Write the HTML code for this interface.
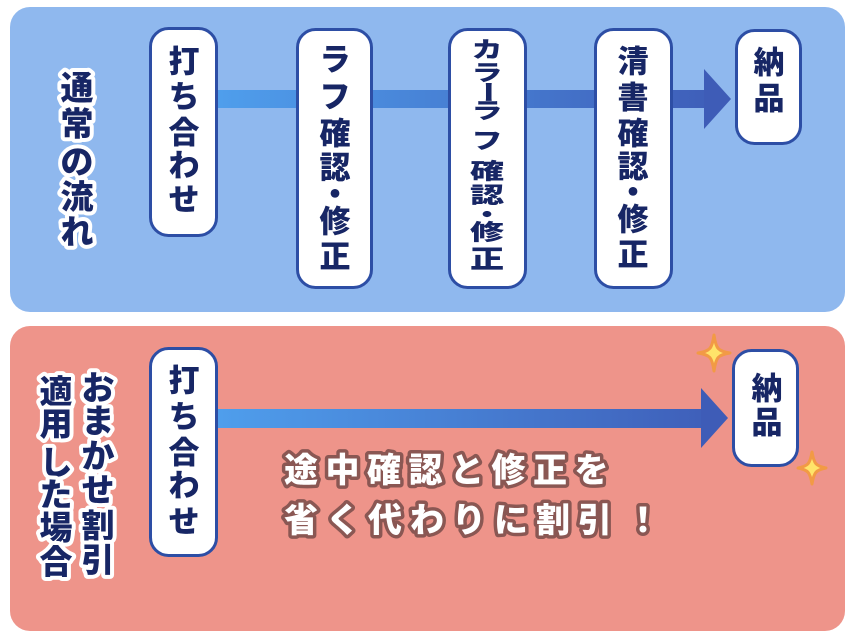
<!DOCTYPE html>
<html><head><meta charset="utf-8"><style>
html,body{margin:0;padding:0;background:#fff;}
svg{display:block;}
text{font-family:"Liberation Sans","Noto Sans CJK JP",sans-serif;font-weight:900;}
</style></head><body>
<svg width="858" height="634" viewBox="0 0 858 634" xmlns="http://www.w3.org/2000/svg">
<defs>
<linearGradient id="ag" x1="218" x2="731" y1="0" y2="0" gradientUnits="userSpaceOnUse">
<stop offset="0" stop-color="#4f9eec"/><stop offset="1" stop-color="#3e5cb7"/>
</linearGradient>
</defs>
<rect x="10" y="7" width="835" height="305" rx="20" fill="#8fb8ee"/>
<rect x="10" y="326" width="835" height="305" rx="20" fill="#ee948a"/>

<!-- arrows -->
<rect x="218" y="90" width="487" height="18" fill="url(#ag)"/>
<polygon points="704,69 731,99 704,129" fill="#3e5cb7"/>
<rect x="218" y="409" width="484" height="19" fill="url(#ag)"/>
<polygon points="701,388 728,418 701,448" fill="#3e5cb7"/>

<!-- boxes -->
<g fill="#fff" stroke="#2d4ea5" stroke-width="3">
<rect x="150.5" y="28.5" width="66" height="207" rx="18"/>
<rect x="297.5" y="29.5" width="74" height="258" rx="18"/>
<rect x="449.5" y="29.5" width="76" height="258" rx="18"/>
<rect x="595.5" y="29.5" width="76" height="258" rx="18"/>
<rect x="736.5" y="30.5" width="64" height="113" rx="18"/>
<rect x="150.5" y="348.5" width="66" height="207" rx="18"/>
<rect x="733.5" y="350.5" width="64" height="115" rx="18"/>
</g>

<!-- box text -->
<g fill="#172665" font-size="31" text-anchor="middle" dominant-baseline="central">
<text x="184" y="62">打</text><text x="184" y="97">ち</text><text x="184" y="133">合</text><text x="184" y="166">わ</text><text x="184" y="200">せ</text>

<text x="335" y="60">ラ</text><text x="335" y="97">フ</text><text x="335" y="134">確</text><text x="335" y="168">認</text><text x="335" y="195">・</text><text x="335" y="222">修</text><text x="335" y="257">正</text>

<g transform="translate(487,50) scale(1,0.72)"><text x="0" y="0">カ</text></g>
<g transform="translate(487,73) scale(1,0.72)"><text x="0" y="0">ラ</text></g>
<g transform="translate(487,92) rotate(90) scale(0.7,1)"><text x="0" y="0">ー</text></g>
<g transform="translate(487,111) scale(1,0.72)"><text x="0" y="0">ラ</text></g>
<g transform="translate(487,141) scale(1,0.72)"><text x="0" y="0">フ</text></g>
<g transform="translate(487,172) scale(1.1,0.72)"><text x="0" y="0">確</text></g>
<g transform="translate(487,196) scale(1.1,0.72)"><text x="0" y="0">認</text></g>
<g transform="translate(487,215) scale(1,0.7)"><text x="0" y="0">・</text></g>
<g transform="translate(487,233) scale(1.1,0.72)"><text x="0" y="0">修</text></g>
<g transform="translate(487,260) scale(1.1,0.82)"><text x="0" y="0">正</text></g>

<text x="633" y="62">清</text><text x="633" y="98">書</text><text x="633" y="134">確</text><text x="633" y="167">認</text><text x="633" y="193">・</text><text x="633" y="220">修</text><text x="633" y="255">正</text>

<text x="769" y="63">納</text><text x="769" y="99">品</text>

<text x="184" y="381">打</text><text x="184" y="417">ち</text><text x="184" y="453">合</text><text x="184" y="486">わ</text><text x="184" y="522">せ</text>

<text x="767" y="389">納</text><text x="767" y="423">品</text>
</g>

<!-- left labels with white outline -->
<g fill="#172665" stroke="#fff" stroke-width="8" stroke-linejoin="round" paint-order="stroke" font-size="33" text-anchor="middle" dominant-baseline="central">
<text x="77" y="88">通</text><text x="77" y="124">常</text><text x="77" y="162">の</text><text x="77" y="197">流</text><text x="77" y="232">れ</text>

<text x="98" y="388">お</text><text x="98" y="421">ま</text><text x="98" y="456">か</text><text x="98" y="490">せ</text><text x="98" y="526">割</text><text x="98" y="560">引</text>

<text x="56" y="392">適</text><text x="56" y="424">用</text><text x="56" y="463">し</text><text x="56" y="495">た</text><text x="56" y="528">場</text><text x="56" y="562">合</text>
</g>

<!-- bottom message -->
<g fill="#fff" stroke="#8a5753" stroke-width="7" stroke-linejoin="round" paint-order="stroke" font-size="34" text-anchor="middle" dominant-baseline="central">
<text x="301" y="471">途</text><text x="342.5" y="471">中</text><text x="384" y="471">確</text><text x="425.5" y="471">認</text><text x="467" y="471">と</text><text x="508.5" y="471">修</text><text x="550" y="471">正</text><text x="591.5" y="471">を</text>
<text x="301" y="521">省</text><text x="343" y="521">く</text><text x="385" y="521">代</text><text x="427" y="521">わ</text><text x="469" y="521">り</text><text x="511" y="521">に</text><text x="553" y="521">割</text><text x="595" y="521">引</text><text x="643" y="521">！</text>
</g>

<!-- sparkles -->
<g fill="#ffe46a" stroke="#f29a45" stroke-width="3" stroke-linejoin="round">
<path transform="translate(714,353)" d="M0,-18 C2,-4 4,-2 16,0 C4,2 2,4 0,18 C-2,4 -4,2 -16,0 C-4,-2 -2,-4 0,-18Z"/>
<path transform="translate(812,468)" d="M0,-16 C2,-4 4,-2 14,0 C4,2 2,4 0,16 C-2,4 -4,2 -14,0 C-4,-2 -2,-4 0,-16Z"/>
</g>
</svg>
</body></html>
